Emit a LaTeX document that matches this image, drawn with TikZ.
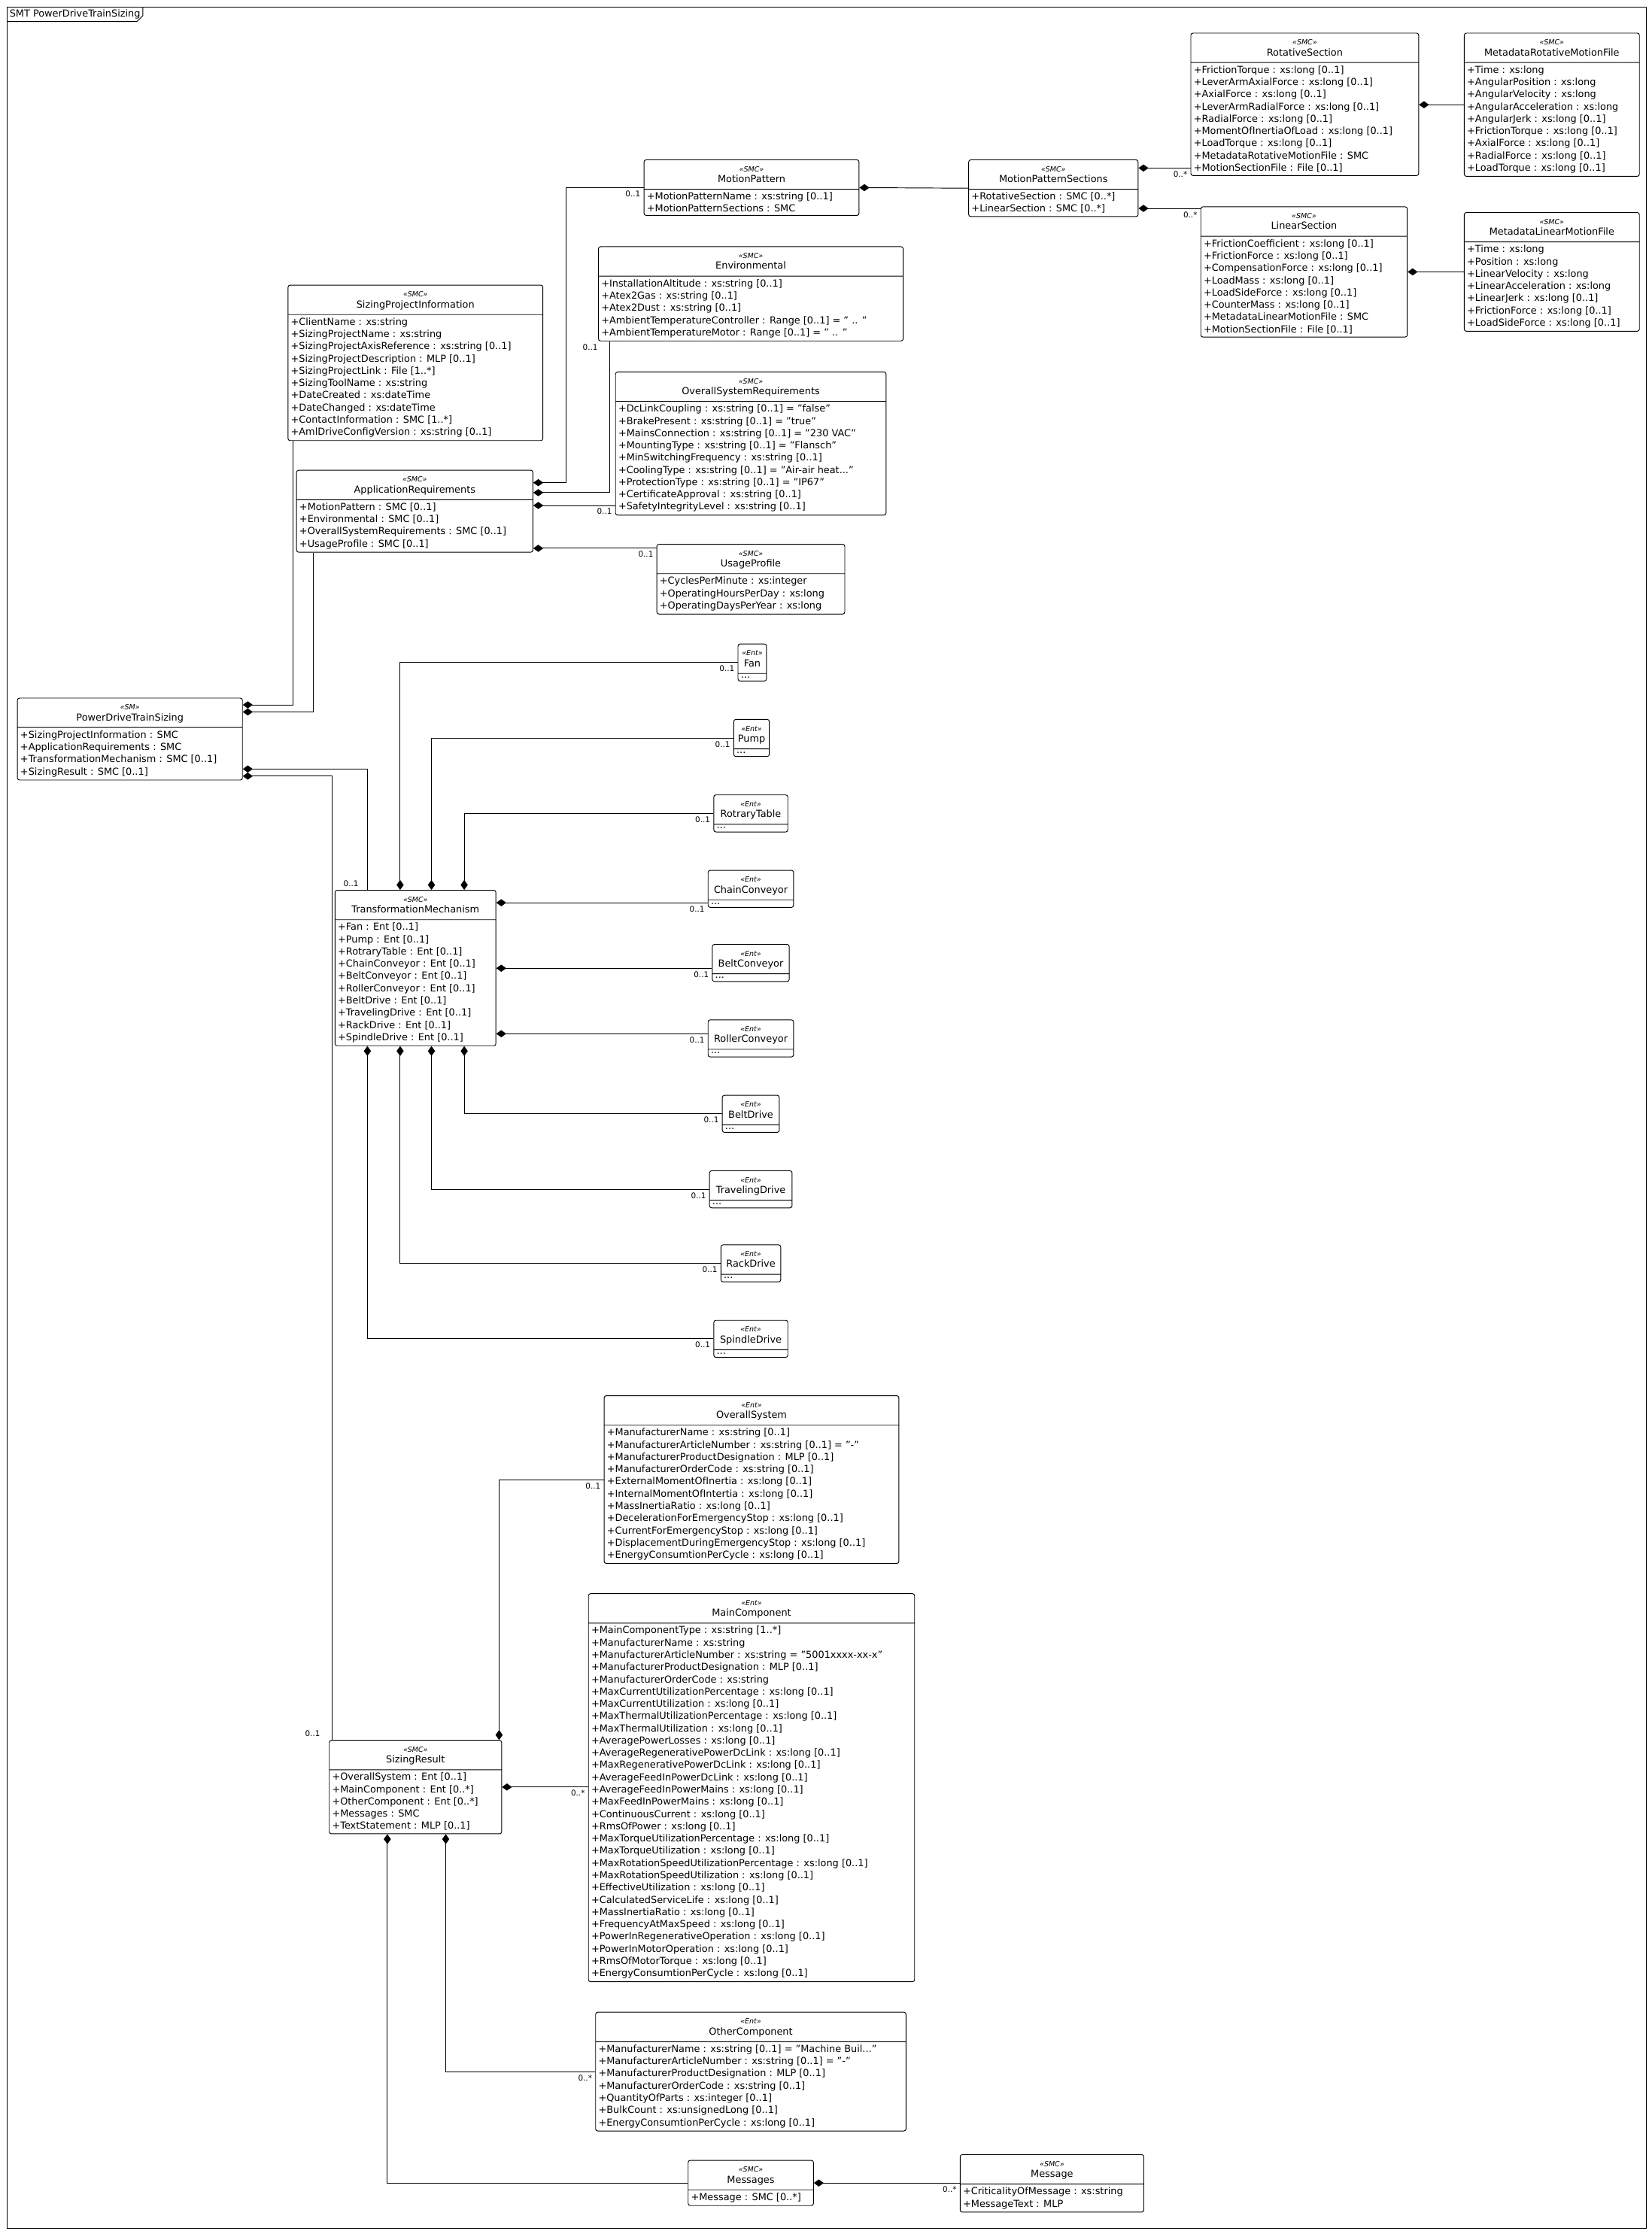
\documentclass[tikz,border=0pt]{standalone}
\usepackage{fontspec}
\setmainfont{DejaVu Sans}
\usetikzlibrary{positioning,arrows.meta,shapes.multipart}

\newcommand{\stereo}[1]{{\fontsize{5}{6}\selectfont\itshape «#1»}}
% class box: name, top-left, width, stereotype, title, attributes
\newcommand{\umlclass}[6]{%
  \node[umlbox,minimum width=#3pt] (#1) at (#2)
    {\begin{tabular}{@{}c@{}}\stereo{#4}\\[-1pt]#5\end{tabular}\nodepart{two}#6};}

\begin{document}
\begin{tikzpicture}[x=1pt,y=-1pt,line width=0.5pt,
    umlbox/.style={rectangle split,rectangle split parts=2,draw,rounded corners=1.5pt,
      anchor=north west,align=left,inner xsep=2pt,inner ysep=2pt,
      rectangle split part align={center,left},
      font=\fontsize{6.8}{8.6}\selectfont},
    comp/.style={{Diamond[length=7pt,width=5pt]}-},
    lbl/.style={font=\fontsize{5.5}{6}\selectfont,inner sep=2pt}]
\useasboundingbox (0,0) rectangle (1160,1569);
% frame
\draw (5,5) rectangle (1156,1565);
\node[anchor=north west,inner sep=1.5pt,font=\fontsize{6.8}{8}\selectfont] (frm) at (5,5) {SMT PowerDriveTrainSizing};
\draw (frm.south west) -- ([xshift=-4pt]frm.south east) -- ([yshift=4pt]frm.south east) -- (frm.north east);

% motion pattern part
\umlclass{rs}{836,23}{160}{SMC}{RotativeSection}{+FrictionTorque : xs:long [0..1]\\+LeverArmAxialForce : xs:long [0..1]\\+AxialForce : xs:long [0..1]\\+LeverArmRadialForce : xs:long [0..1]\\+RadialForce : xs:long [0..1]\\+MomentOfInertiaOfLoad : xs:long [0..1]\\+LoadTorque : xs:long [0..1]\\+MetadataRotativeMotionFile : SMC\\+MotionSectionFile : File [0..1]}
\umlclass{mrmf}{1028,23}{123}{SMC}{MetadataRotativeMotionFile}{+Time : xs:long\\+AngularPosition : xs:long\\+AngularVelocity : xs:long\\+AngularAcceleration : xs:long\\+AngularJerk : xs:long [0..1]\\+FrictionTorque : xs:long [0..1]\\+AxialForce : xs:long [0..1]\\+RadialForce : xs:long [0..1]\\+LoadTorque : xs:long [0..1]}
\umlclass{mp}{452,112}{151}{SMC}{MotionPattern}{+MotionPatternName : xs:string [0..1]\\+MotionPatternSections : SMC}
\umlclass{mps}{680,112}{119}{SMC}{MotionPatternSections}{+RotativeSection : SMC [0..*]\\+LinearSection : SMC [0..*]}
\umlclass{ls}{843,145}{145}{SMC}{LinearSection}{+FrictionCoefficient : xs:long [0..1]\\+FrictionForce : xs:long [0..1]\\+CompensationForce : xs:long [0..1]\\+LoadMass : xs:long [0..1]\\+LoadSideForce : xs:long [0..1]\\+CounterMass : xs:long [0..1]\\+MetadataLinearMotionFile : SMC\\+MotionSectionFile : File [0..1]}
\umlclass{mlmf}{1028,149}{123}{SMC}{MetadataLinearMotionFile}{+Time : xs:long\\+Position : xs:long\\+LinearVelocity : xs:long\\+LinearAcceleration : xs:long\\+LinearJerk : xs:long [0..1]\\+FrictionForce : xs:long [0..1]\\+LoadSideForce : xs:long [0..1]}

% requirements
\umlclass{env}{420,173}{214}{SMC}{Environmental}{+InstallationAltitude : xs:string [0..1]\\+Atex2Gas : xs:string [0..1]\\+Atex2Dust : xs:string [0..1]\\+AmbientTemperatureController : Range [0..1] = " .. "\\+AmbientTemperatureMotor : Range [0..1] = " .. "}
\umlclass{spi}{202,200}{179}{SMC}{SizingProjectInformation}{+ClientName : xs:string\\+SizingProjectName : xs:string\\+SizingProjectAxisReference : xs:string [0..1]\\+SizingProjectDescription : MLP [0..1]\\+SizingProjectLink : File [1..*]\\+SizingToolName : xs:string\\+DateCreated : xs:dateTime\\+DateChanged : xs:dateTime\\+ContactInformation : SMC [1..*]\\+AmlDriveConfigVersion : xs:string [0..1]}
\umlclass{osr}{432,261}{190}{SMC}{OverallSystemRequirements}{+DcLinkCoupling : xs:string [0..1] = "false"\\+BrakePresent : xs:string [0..1] = "true"\\+MainsConnection : xs:string [0..1] = "230 VAC"\\+MountingType : xs:string [0..1] = "Flansch"\\+MinSwitchingFrequency : xs:string [0..1]\\+CoolingType : xs:string [0..1] = "Air-air heat..."\\+ProtectionType : xs:string [0..1] = "IP67"\\+CertificateApproval : xs:string [0..1]\\+SafetyIntegrityLevel : xs:string [0..1]}
\umlclass{ar}{208,330}{166}{SMC}{ApplicationRequirements}{+MotionPattern : SMC [0..1]\\+Environmental : SMC [0..1]\\+OverallSystemRequirements : SMC [0..1]\\+UsageProfile : SMC [0..1]}
\umlclass{up}{461,382}{132}{SMC}{UsageProfile}{+CyclesPerMinute : xs:integer\\+OperatingHoursPerDay : xs:long\\+OperatingDaysPerYear : xs:long}
\umlclass{pdts}{12,490}{158}{SM}{PowerDriveTrainSizing}{+SizingProjectInformation : SMC\\+ApplicationRequirements : SMC\\+TransformationMechanism : SMC [0..1]\\+SizingResult : SMC [0..1]}

% transformation mechanisms
\umlclass{fan}{518,452}{20}{Ent}{Fan}{...}
\umlclass{pump}{515,505}{25}{Ent}{Pump}{...}
\umlclass{rt}{501,558}{52}{Ent}{RotraryTable}{...}
\umlclass{cc}{497,611}{60}{Ent}{ChainConveyor}{...}
\umlclass{bc}{500,663}{54}{Ent}{BeltConveyor}{...}
\umlclass{rc}{497,716}{60}{Ent}{RollerConveyor}{...}
\umlclass{bd}{507,769}{40}{Ent}{BeltDrive}{...}
\umlclass{td}{498,822}{58}{Ent}{TravelingDrive}{...}
\umlclass{rd}{506,874}{42}{Ent}{RackDrive}{...}
\umlclass{sd}{501,927}{52}{Ent}{SpindleDrive}{...}
\umlclass{tm}{235,625}{113}{SMC}{TransformationMechanism}{+Fan : Ent [0..1]\\+Pump : Ent [0..1]\\+RotraryTable : Ent [0..1]\\+ChainConveyor : Ent [0..1]\\+BeltConveyor : Ent [0..1]\\+RollerConveyor : Ent [0..1]\\+BeltDrive : Ent [0..1]\\+TravelingDrive : Ent [0..1]\\+RackDrive : Ent [0..1]\\+SpindleDrive : Ent [0..1]}

% sizing result
\umlclass{os}{424,980}{207}{Ent}{OverallSystem}{+ManufacturerName : xs:string [0..1]\\+ManufacturerArticleNumber : xs:string [0..1] = "-"\\+ManufacturerProductDesignation : MLP [0..1]\\+ManufacturerOrderCode : xs:string [0..1]\\+ExternalMomentOfInertia : xs:long [0..1]\\+InternalMomentOfIntertia : xs:long [0..1]\\+MassInertiaRatio : xs:long [0..1]\\+DecelerationForEmergencyStop : xs:long [0..1]\\+CurrentForEmergencyStop : xs:long [0..1]\\+DisplacementDuringEmergencyStop : xs:long [0..1]\\+EnergyConsumtionPerCycle : xs:long [0..1]}
\umlclass{mc}{413,1119}{229}{Ent}{MainComponent}{+MainComponentType : xs:string [1..*]\\+ManufacturerName : xs:string\\+ManufacturerArticleNumber : xs:string = "5001xxxx-xx-x"\\+ManufacturerProductDesignation : MLP [0..1]\\+ManufacturerOrderCode : xs:string\\+MaxCurrentUtilizationPercentage : xs:long [0..1]\\+MaxCurrentUtilization : xs:long [0..1]\\+MaxThermalUtilizationPercentage : xs:long [0..1]\\+MaxThermalUtilization : xs:long [0..1]\\+AveragePowerLosses : xs:long [0..1]\\+AverageRegenerativePowerDcLink : xs:long [0..1]\\+MaxRegenerativePowerDcLink : xs:long [0..1]\\+AverageFeedInPowerDcLink : xs:long [0..1]\\+AverageFeedInPowerMains : xs:long [0..1]\\+MaxFeedInPowerMains : xs:long [0..1]\\+ContinuousCurrent : xs:long [0..1]\\+RmsOfPower : xs:long [0..1]\\+MaxTorqueUtilizationPercentage : xs:long [0..1]\\+MaxTorqueUtilization : xs:long [0..1]\\+MaxRotationSpeedUtilizationPercentage : xs:long [0..1]\\+MaxRotationSpeedUtilization : xs:long [0..1]\\+EffectiveUtilization : xs:long [0..1]\\+CalculatedServiceLife : xs:long [0..1]\\+MassInertiaRatio : xs:long [0..1]\\+FrequencyAtMaxSpeed : xs:long [0..1]\\+PowerInRegenerativeOperation : xs:long [0..1]\\+PowerInMotorOperation : xs:long [0..1]\\+RmsOfMotorTorque : xs:long [0..1]\\+EnergyConsumtionPerCycle : xs:long [0..1]}
\umlclass{sr}{231,1222}{121}{SMC}{SizingResult}{+OverallSystem : Ent [0..1]\\+MainComponent : Ent [0..*]\\+OtherComponent : Ent [0..*]\\+Messages : SMC\\+TextStatement : MLP [0..1]}
\umlclass{oc}{418,1413}{218}{Ent}{OtherComponent}{+ManufacturerName : xs:string [0..1] = "Machine Buil..."\\+ManufacturerArticleNumber : xs:string [0..1] = "-"\\+ManufacturerProductDesignation : MLP [0..1]\\+ManufacturerOrderCode : xs:string [0..1]\\+QuantityOfParts : xs:integer [0..1]\\+BulkCount : xs:unsignedLong [0..1]\\+EnergyConsumtionPerCycle : xs:long [0..1]}
\umlclass{msgs}{483,1517}{88}{SMC}{Messages}{+Message : SMC [0..*]}
\umlclass{msg}{674,1513}{129}{SMC}{Message}{+CriticalityOfMessage : xs:string\\+MessageText : MLP}

% compositions
\draw[comp] (rs.east |- mrmf.west) -- (mrmf.west);
\draw[comp] (ls.east |- mlmf.west) -- (mlmf.west);
\draw[comp] ([yshift=-6pt]mps.north east) coordinate (a1) -- (a1 -| rs.west) node[lbl,anchor=north east]{0..*};
\draw[comp] ([yshift=6pt]mps.south east) coordinate (a2) -- (a2 -| ls.west) node[lbl,anchor=north east]{0..*};
\draw[comp] (mp.east) -- (mps.west);
\draw[comp] ([yshift=-9pt]ar.north east) -- ++(23,0) |- (mp.west) node[lbl,anchor=north east]{0..1};
\draw[comp] ([yshift=-16pt]ar.north east) -| ([xshift=8pt]env.south west) node[lbl,anchor=north east,xshift=-6pt]{0..1};
\draw[comp] ([yshift=-25pt]ar.north east) coordinate (a3) -- (a3 -| osr.west) node[lbl,anchor=north east]{0..1};
\draw[comp] ([yshift=3pt]ar.south east) coordinate (a4) -- (a4 -| up.west) node[lbl,anchor=north east]{0..1};
\draw[comp] ([yshift=-5pt]pdts.north east) -| ([xshift=4pt]spi.south west);
\draw[comp] ([yshift=-10pt]pdts.north east) -| ([xshift=12pt]ar.south west);
\draw[comp] ([yshift=8pt]pdts.south east) -| ([xshift=23pt]tm.north west) node[lbl,anchor=south east,xshift=-4pt]{0..1};
\draw[comp] ([yshift=3pt]pdts.south east) -| ([xshift=2pt]sr.north west) node[lbl,anchor=south east,xshift=-6pt]{0..1};
\draw[comp] ([xshift=46pt]tm.north west) |- (fan.west) node[lbl,anchor=north east]{0..1};
\draw[comp] ([xshift=68pt]tm.north west) |- (pump.west) node[lbl,anchor=north east]{0..1};
\draw[comp] ([xshift=91pt]tm.north west) |- (rt.west) node[lbl,anchor=north east]{0..1};
\draw[comp] ([yshift=-9pt]tm.north east) coordinate (t1) -- (t1 -| cc.west) node[lbl,anchor=north east]{0..1};
\draw[comp] ([yshift=-55pt]tm.north east) coordinate (t2) -- (t2 -| bc.west) node[lbl,anchor=north east]{0..1};
\draw[comp] ([yshift=-101pt]tm.north east) coordinate (t3) -- (t3 -| rc.west) node[lbl,anchor=north east]{0..1};
\draw[comp] ([xshift=91pt]tm.south west) |- (bd.west) node[lbl,anchor=north east]{0..1};
\draw[comp] ([xshift=68pt]tm.south west) |- (td.west) node[lbl,anchor=north east]{0..1};
\draw[comp] ([xshift=46pt]tm.south west) |- (rd.west) node[lbl,anchor=north east]{0..1};
\draw[comp] ([xshift=23pt]tm.south west) |- (sd.west) node[lbl,anchor=north east]{0..1};
\draw[comp] ([xshift=-2pt]sr.north east) |- (os.west) node[lbl,anchor=north east]{0..1};
\draw[comp] (sr.east) -- (sr.east -| mc.west) node[lbl,anchor=north east]{0..*};
\draw[comp] ([xshift=82pt]sr.south west) |- (oc.west) node[lbl,anchor=north east]{0..*};
\draw[comp] ([xshift=41pt]sr.south west) |- (msgs.west);
\draw[comp] (msgs.east) -- (msgs.east -| msg.west) node[lbl,anchor=north east]{0..*};
\end{tikzpicture}
\end{document}
